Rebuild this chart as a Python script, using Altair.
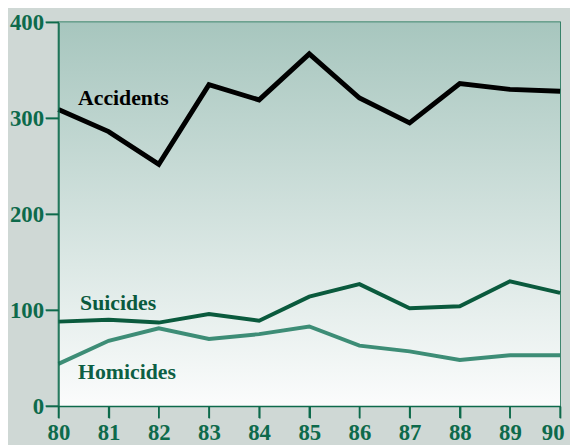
import altair as alt
import pandas as pd

years = [80, 81, 82, 83, 84, 85, 86, 87, 88, 89, 90]
accidents = [309, 286, 252, 335, 319, 367, 321, 295, 336, 330, 328]
suicides = [88, 90, 87, 96, 89, 114, 127, 102, 104, 130, 118]
homicides = [44, 68, 81, 70, 75, 83, 63, 57, 48, 53, 53]
y_ticks = [0, 100, 200, 300, 400]

series_names = ["Accidents", "Suicides", "Homicides"]
series_colors = ["#000000", "#0a5a3d", "#3d8d76"]
series_widths = [5, 4, 4]

label_x = [80.39, 80.43, 80.39]
label_y = [321, 107, 35]

FONT = "Liberation Serif"
GREEN = "#0d6a4b"
W, H = 507, 388

rows = []
for name, vals in zip(series_names, [accidents, suicides, homicides]):
    for yr, v in zip(years, vals):
        rows.append({"year": yr, "value": v, "series": name})
df = pd.DataFrame(rows)

labels = pd.DataFrame({"series": series_names, "x": label_x, "y": label_y})

xscale = alt.Scale(domain=[80, 90], nice=False, zero=False)
yscale = alt.Scale(domain=[0, 400], nice=False)

xaxis = alt.Axis(values=years, title=None, ticks=True, tickSize=12, labelPadding=4,
                 labelFlush=False, grid=False, zindex=1,
                 labelAlign=alt.ExprRef(expr="datum.value == 90 ? 'right' : 'center'"),
                 labelOffset=alt.ExprRef(expr="datum.value == 90 ? 4 : 0"))
yaxis = alt.Axis(values=y_ticks, title=None, ticks=True, tickSize=13,
                 labelPadding=2, grid=False, zindex=1)

bg = alt.Chart(pd.DataFrame({"a": [0]})).mark_rect(
    color=alt.Gradient(
        gradient="linear",
        stops=[alt.GradientStop(color="#a7c6be", offset=0),
               alt.GradientStop(color="#fbfcfc", offset=1)],
        x1=0, x2=0, y1=0, y2=1,
    )
).encode(x=alt.value(0), x2=alt.value("width"), y=alt.value(0), y2=alt.value("height"))

xticks = alt.Chart(pd.DataFrame({"year": years})).mark_rule(color=GREEN, strokeWidth=1.5).encode(
    x=alt.X("year:Q", scale=xscale, axis=xaxis, title=None),
    y=alt.value(H), y2=alt.value(H + 12),
)
yticks = alt.Chart(pd.DataFrame({"value": y_ticks})).mark_rule(color=GREEN, strokeWidth=1.5).encode(
    y=alt.Y("value:Q", scale=yscale, axis=yaxis, title=None),
    x=alt.value(-13), x2=alt.value(0),
)

lines = []
for name, col, w in zip(series_names, series_colors, series_widths):
    lines.append(
        alt.Chart(df[df.series == name]).mark_line(color=col, strokeWidth=w, strokeJoin="miter").encode(
            x=alt.X("year:Q", scale=xscale, axis=xaxis, title=None),
            y=alt.Y("value:Q", scale=yscale, axis=yaxis, title=None),
        )
    )

text_layers = []
for name, col in zip(series_names, ["#000000", "#0a5a3d", "#0d5f44"]):
    text_layers.append(
        alt.Chart(labels[labels.series == name]).mark_text(
            align="left", baseline="middle", font=FONT, fontSize=22, fontWeight="bold", color=col
        ).encode(
            x=alt.X("x:Q", scale=xscale, axis=xaxis, title=None),
            y=alt.Y("y:Q", scale=yscale, axis=yaxis, title=None),
            text="series:N",
        )
    )

chart = alt.layer(bg, xticks, yticks, *lines, *text_layers).properties(
    width=W, height=H,
    autosize=alt.AutoSizeParams(type="none"),
    padding={"left": 51, "top": 12, "right": 10, "bottom": 37},
    background="#cfd8d5",
).configure_view(
    stroke=GREEN, strokeWidth=1.5
).configure_axis(
    domainColor=GREEN, domainWidth=1.5, tickColor=GREEN, tickWidth=1.5,
    labelColor=GREEN, labelFont=FONT, labelFontSize=23, labelFontWeight="bold",
)

chart.save("out.html", embed_options={"renderer": "svg", "actions": False})
